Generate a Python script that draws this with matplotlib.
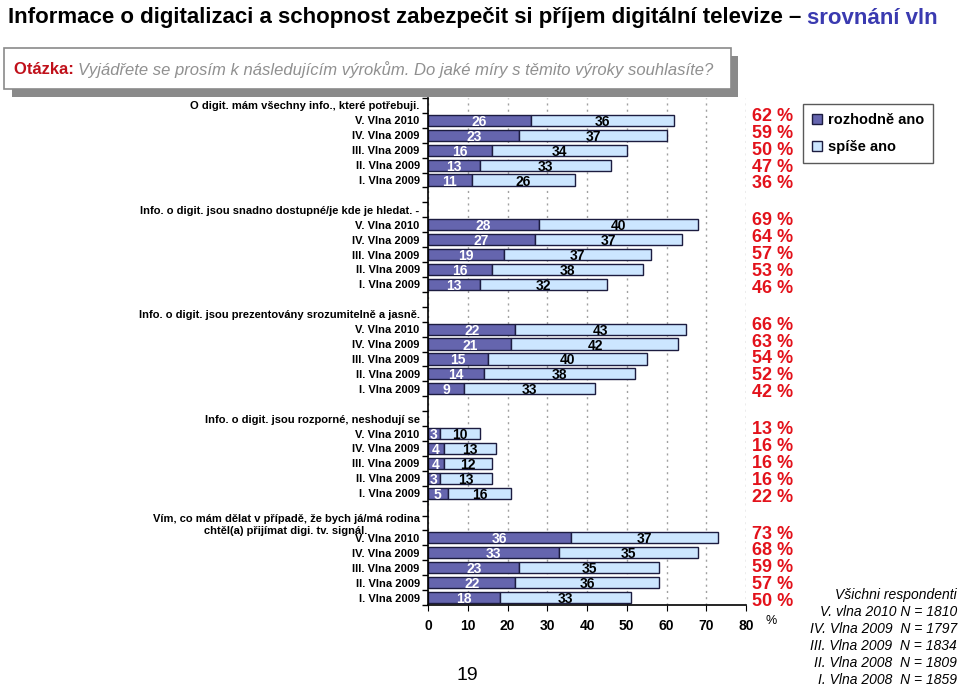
import numpy as np
import matplotlib
matplotlib.use("Agg")
import matplotlib.pyplot as plt
from matplotlib.patches import Rectangle, Patch

plt.rcParams['font.family'] = ['Liberation Sans', 'DejaVu Sans']

# ---- data ----
headings = [
    "O digit. mám všechny info., které potřebuji.",
    "Info. o digit. jsou snadno dostupné/je kde je hledat. -",
    "Info. o digit. jsou prezentovány srozumitelně a jasně.",
    "Info. o digit. jsou rozporné, neshodují se",
    "Vím, co mám dělat v případě, že bych já/má rodina\nchtěl(a) přijímat digi. tv. signál.",
]
waves = ["V. Vlna 2010", "IV. Vlna 2009", "III. Vlna 2009", "II. Vlna 2009", "I. Vlna 2009"]

rozhodne_ano = [
    [26, 23, 16, 13, 11],
    [28, 27, 19, 16, 13],
    [22, 21, 15, 14, 9],
    [3, 4, 4, 3, 5],
    [36, 33, 23, 22, 18],
]
spise_ano = [
    [36, 37, 34, 33, 26],
    [40, 37, 37, 38, 32],
    [43, 42, 40, 38, 33],
    [10, 13, 12, 13, 16],
    [37, 35, 35, 36, 33],
]
totals = [
    [62, 59, 50, 47, 36],
    [69, 64, 57, 53, 46],
    [66, 63, 54, 52, 42],
    [13, 16, 16, 16, 22],
    [73, 68, 59, 57, 50],
]
sample_notes = [
    "Všichni respondenti",
    "V. vlna 2010 N = 1810",
    "IV. Vlna 2009  N = 1797",
    "III. Vlna 2009  N = 1834",
    "II. Vlna 2008  N = 1809",
    "I. Vlna 2008  N = 1859",
]

dark_col = "#6565AE"
light_col = "#CCE6FF"
edge_col = "#1C1C40"
red_col = "#E3121B"

W, H = 960, 688
fig = plt.figure(figsize=(W / 100, H / 100), dpi=100)


def fx(px):
    return px / W


def fy(py):
    return 1 - py / H


# title
t = fig.text(fx(8), fy(18), "Informace o digitalizaci a schopnost zabezpečit si příjem digitální televize – ",
             fontsize=16, fontweight='bold', va='center', ha='left')
fig.canvas.draw()
bb = t.get_window_extent()
fig.text(bb.x1 / W, fy(18), "srovnání vln", fontsize=16, fontweight='bold', va='center',
         ha='left', color="#3A3AB0")

# question box with shadow
fig.patches.append(Rectangle((fx(12), fy(97)), fx(738) - fx(12), fy(56) - fy(97),
                             transform=fig.transFigure, facecolor="#8A8A8A", edgecolor='none', zorder=0))
fig.patches.append(Rectangle((fx(4), fy(89)), fx(731) - fx(4), fy(48) - fy(89),
                             transform=fig.transFigure, facecolor='white', edgecolor="#8A8A8A",
                             linewidth=1.2, zorder=1))
q1 = fig.text(fx(14), fy(70), "Otázka: ", fontsize=12, fontweight='bold', color="#C0101A",
              va='center', ha='left', zorder=2)
fig.canvas.draw()
bb = q1.get_window_extent()
fig.text(bb.x1 / W, fy(70), "Vyjádřete se prosím k následujícím výrokům. Do jaké míry s těmito výroky souhlasíte?",
         fontsize=12, style='italic', color="#909090", va='center', ha='left', zorder=2)

# main axes
ax = fig.add_axes([fx(428), fy(605), fx(746) - fx(428), fy(98) - fy(605)])
ax.set_zorder(-1)

labels = []
for g in range(len(headings)):
    base = 7 * g
    labels.append((base, headings[g]))
    for i in range(5):
        y = base + 1 + i
        labels.append((y, waves[i]))
        d = rozhodne_ano[g][i]
        l = spise_ano[g][i]
        ax.barh(y, d, height=0.75, color=dark_col, edgecolor=edge_col, linewidth=1.0)
        ax.barh(y, l, left=d, height=0.75, color=light_col, edgecolor=edge_col, linewidth=1.0)
        ax.text(d / 2, y, str(d), color='white', fontweight='bold', fontsize=10,
                ha='center', va='center_baseline')
        ax.text(d + l / 2, y, str(l), color='black', fontweight='bold', fontsize=10,
                ha='center', va='center_baseline')
    # red totals, spaced slightly wider than the bars
    mid = base + 3
    for i in range(5):
        ax.text(1.02, mid + (i - 2) * 1.13, f"{totals[g][i]} %", transform=ax.get_yaxis_transform(),
                color=red_col, fontweight='bold', fontsize=13, ha='left', va='center')

n_slots = 7 * len(headings) - 1
ax.set_ylim(n_slots - 0.5, -0.5)
ax.set_xlim(0, 80)
ax.set_yticks([p for p, _ in labels])
ax.set_yticklabels([s for _, s in labels], fontsize=8, fontweight='bold', multialignment='center')
ax.set_yticks(np.arange(-0.5, n_slots, 1.0), minor=True)
ax.tick_params(axis='y', which='major', length=0, pad=6)
ax.tick_params(axis='y', which='minor', length=4, direction='out', width=1)
ax.set_xticks(np.arange(0, 81, 10))
ax.tick_params(axis='x', which='major', length=4, direction='out', labelsize=10, pad=6)
for lab in ax.get_xticklabels():
    lab.set_fontweight('bold')
ax.xaxis.grid(True, linestyle=(0, (1.5, 3)), color="#A0A0A0", linewidth=1)
ax.set_axisbelow(True)
for s in ['top', 'right']:
    ax.spines[s].set_visible(False)
ax.spines['left'].set_linewidth(1.2)
ax.spines['bottom'].set_linewidth(1.2)
ax.patch.set_alpha(0)
ax.text(1.06, -0.02, "%", transform=ax.transAxes, fontsize=9, ha='left', va='top')

# legend
handles = [Patch(facecolor=dark_col, edgecolor=edge_col, label="rozhodně ano"),
           Patch(facecolor=light_col, edgecolor=edge_col, label="spíše ano")]
fig.legend(handles=handles, loc='upper left', bbox_to_anchor=(fx(803), fy(104)),
           frameon=True, fancybox=False, edgecolor='#303030', borderaxespad=0,
           handlelength=0.7, handleheight=0.7, handletextpad=0.4, labelspacing=0.9,
           borderpad=0.6, prop={'weight': 'bold', 'size': 10.5})

# sample notes
for k, s in enumerate(sample_notes):
    fig.text(fx(957), fy(595 + k * 17), s, fontsize=10, style='italic', ha='right', va='center')

fig.text(fx(467), fy(676), "19", fontsize=14, ha='center', va='center')

fig.savefig("out.png", dpi=100)
